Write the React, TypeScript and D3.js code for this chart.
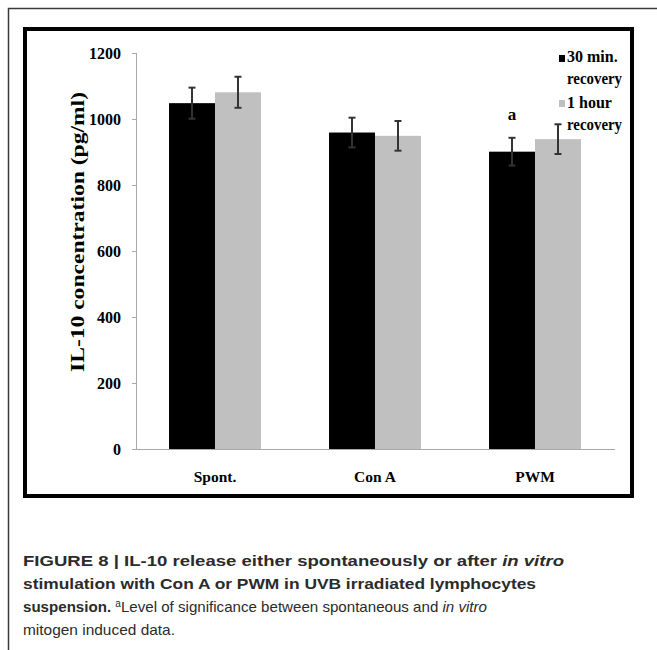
import React from "react";
import * as d3 from "d3";

const categories = ["Spont.", "Con A", "PWM"];
const seriesNames = ["30 min. recovery", "1 hour recovery"];
const values30 = [1048, 959, 901];
const values60 = [1081, 949, 939];
const errors30 = [47, 45, 42];
const errors60 = [47, 45, 45];
const yTicks = [0, 200, 400, 600, 800, 1000, 1200];
const sigLabels = ["", "", "a"];

const colors = ["#000000", "#c0c0c0"];
const serif = "'Liberation Serif', 'Times New Roman', serif";
const sans = "'Liberation Sans', Arial, sans-serif";

export default function App() {
  const W = 657, H = 650;
  const x0 = d3.scaleBand<string>().domain(categories).range([135, 615]).paddingInner(0).paddingOuter(0);
  const x1 = d3.scaleBand<string>().domain(seriesNames).range([0, x0.bandwidth()]).paddingInner(0).paddingOuter(0.74);
  const y = d3.scaleLinear().domain([0, 1200]).range([449, 53]);
  const series = [values30, values60];
  const errs = [errors30, errors60];

  return (
    <svg width={W} height={H} style={{ position: "absolute", left: 0, top: 0, background: "#fff" }}>
      {/* outer panel frame */}
      <rect x={8.5} y={8.5} width={700} height={700} fill="none" stroke="#3a3a3a" strokeWidth={1.5} />
      {/* chart frame */}
      <rect x={25} y={29} width={607} height={467} fill="none" stroke="#000" strokeWidth={4} />
      {/* axes */}
      <line x1={136.5} x2={136.5} y1={y(1200)} y2={y(0)} stroke="#a8a8a8" strokeWidth={1} />
      <line x1={136} x2={615} y1={y(0) + 0.5} y2={y(0) + 0.5} stroke="#a8a8a8" strokeWidth={1} />
      {yTicks.map((t) => (
        <g key={t}>
          <line x1={132} x2={136.5} y1={y(t) + 0.5} y2={y(t) + 0.5} stroke="#a8a8a8" />
          <text x={121} y={y(t)} dy="0.35em" textAnchor="end" fontFamily={serif} fontWeight="bold" fontSize={16} fill="#000">
            {t}
          </text>
        </g>
      ))}
      <text
        transform={`translate(84,232) rotate(-90)`}
        textAnchor="middle"
        fontFamily={serif}
        fontWeight="bold"
        fontSize={19}
        textLength={280}
        lengthAdjust="spacingAndGlyphs"
        fill="#000"
      >
        IL-10 concentration (pg/ml)
      </text>
      {categories.map((c, i) => (
        <g key={c} transform={`translate(${x0(c)},0)`}>
          {seriesNames.map((s, j) => {
            const v = series[j][i];
            const e = errs[j][i];
            const bx = x1(s)!;
            const cx = bx + x1.bandwidth() / 2;
            return (
              <g key={s}>
                <rect x={bx} y={y(v)} width={x1.bandwidth()} height={y(0) - y(v)} fill={colors[j]} />
                <line x1={cx} x2={cx} y1={y(v + e)} y2={y(v - e)} stroke="#333" strokeWidth={2} />
                <line x1={cx - 3.5} x2={cx + 3.5} y1={y(v + e)} y2={y(v + e)} stroke="#333" strokeWidth={2} />
                <line x1={cx - 3.5} x2={cx + 3.5} y1={y(v - e)} y2={y(v - e)} stroke="#333" strokeWidth={2} />
                {j === 0 && sigLabels[i] && (
                  <text x={cx} y={y(v + e) - 18} textAnchor="middle" fontFamily={serif} fontWeight="bold" fontSize={17}>
                    {sigLabels[i]}
                  </text>
                )}
              </g>
            );
          })}
          <text x={x0.bandwidth() / 2} y={482} textAnchor="middle" fontFamily={serif} fontWeight="bold" fontSize={15.5}>
            {c}
          </text>
        </g>
      ))}
      {/* legend */}
      <g fontFamily={serif} fontWeight="bold" fontSize={16}>
        <rect x={559} y={55} width={6} height={7} fill={colors[0]} />
        <text x={567} y={62}>30 min.</text>
        <text x={567} y={84} textLength={55} lengthAdjust="spacingAndGlyphs">recovery</text>
        <rect x={559} y={100} width={6} height={7} fill={colors[1]} />
        <text x={567} y={108}>1 hour</text>
        <text x={567} y={130} textLength={55} lengthAdjust="spacingAndGlyphs">recovery</text>
      </g>
      {/* caption */}
      <g fontFamily={sans} fontSize={15} fill="#2b2b2b">
        <text x={23} y={566} fontWeight="bold" textLength={541} lengthAdjust="spacingAndGlyphs">
          FIGURE 8 | IL-10 release either spontaneously or after <tspan fontStyle="italic">in vitro</tspan>
        </text>
        <text x={23} y={589} fontWeight="bold" textLength={513} lengthAdjust="spacingAndGlyphs">
          stimulation with Con A or PWM in UVB irradiated lymphocytes
        </text>
        <text x={23} y={612} textLength={464} lengthAdjust="spacingAndGlyphs">
          <tspan fontWeight="bold">suspension.</tspan> <tspan fontSize={10} dy={-5}>a</tspan>
          <tspan dy={5}>Level of significance between spontaneous and </tspan>
          <tspan fontStyle="italic">in vitro</tspan>
        </text>
        <text x={23} y={635} textLength={152} lengthAdjust="spacingAndGlyphs">
          mitogen induced data.
        </text>
      </g>
    </svg>
  );
}
